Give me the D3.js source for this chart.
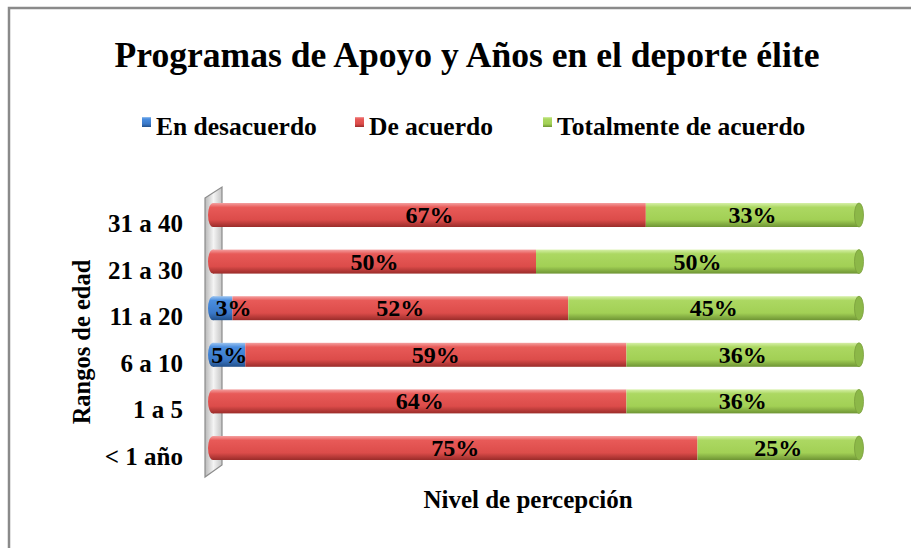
<!DOCTYPE html>
<html>
<head>
<meta charset="utf-8">
<script src="https://cdn.jsdelivr.net/npm/d3@7"></script>
<style>
  body { margin: 0; background: #fff; }
  text { font-family: "Liberation Serif", "Times New Roman", serif; font-weight: bold; }
</style>
</head>
<body>
<div id="chart"></div>
<script>
// chart data
var categories = ["31 a 40", "21 a 30", "11 a 20", "6 a 10", "1 a 5", "< 1 año"];
var seriesNames = ["En desacuerdo", "De acuerdo", "Totalmente de acuerdo"];
var desacuerdo = [0, 0, 3, 5, 0, 0];
var deAcuerdo = [67, 50, 52, 59, 64, 75];
var totalmente = [33, 50, 45, 36, 36, 25];

var W = 911, H = 548;

var svg = d3.select("#chart").append("svg")
    .attr("width", W).attr("height", H);

var defs = svg.append("defs");

// colour ramps for the cylinders: light top, mid, dark bottom
var ramps = [
  {id: "gBlue",  stops: ["#9cc4f0", "#4a8ee0", "#3a78c8", "#22508a"]},
  {id: "gRed",   stops: ["#f4a0a0", "#e85a58", "#dc4c4a", "#9a2c2a"]},
  {id: "gGreen", stops: ["#d6f0a8", "#acd862", "#a2d055", "#6e9434"]}
];
ramps.forEach(function(r) {
  var g = defs.append("linearGradient").attr("id", r.id)
      .attr("x1", 0).attr("y1", 0).attr("x2", 0).attr("y2", 1);
  g.append("stop").attr("offset", "0").attr("stop-color", r.stops[0]);
  g.append("stop").attr("offset", "0.18").attr("stop-color", r.stops[1]);
  g.append("stop").attr("offset", "0.7").attr("stop-color", r.stops[2]);
  g.append("stop").attr("offset", "1").attr("stop-color", r.stops[3]);
});
var wallGrad = defs.append("linearGradient").attr("id", "gWall")
    .attr("x1", 0).attr("y1", 0).attr("x2", 1).attr("y2", 0);
wallGrad.append("stop").attr("offset", "0").attr("stop-color", "#b8b8b8");
wallGrad.append("stop").attr("offset", "0.5").attr("stop-color", "#f4f4f4");
wallGrad.append("stop").attr("offset", "1").attr("stop-color", "#c4c4c4");

// outer frame
svg.append("rect")
    .attr("x", 9).attr("y", 8).attr("width", 960).attr("height", 600)
    .attr("fill", "none").attr("stroke", "#8a8a8a").attr("stroke-width", 2.5);

// title
svg.append("text")
    .attr("x", 467).attr("y", 67)
    .attr("text-anchor", "middle")
    .attr("font-size", 35.6)
    .text("Programas de Apoyo y Años en el deporte élite");

// legend
var legendX = [142, 355, 543];
var legendFill = ["#4a8ee0", "#e85a58", "#acd862"];
var legend = svg.append("g");
seriesNames.forEach(function(name, i) {
  legend.append("rect")
      .attr("x", legendX[i]).attr("y", 117).attr("width", 9).attr("height", 10)
      .attr("fill", "url(#" + ramps[i].id + ")");
  legend.append("text")
      .attr("x", legendX[i] + 14).attr("y", 135)
      .attr("font-size", 25.5)
      .text(name);
});

// scales
var x = d3.scaleLinear().domain([0, 100]).range([210, 856]);
var y = d3.scalePoint().domain(categories).range([215, 448]);
var barH = 24;

// side wall
svg.append("path")
    .attr("d", "M205,198 L222,187 L222,465 L205,477 Z")
    .attr("fill", "url(#gWall)")
    .attr("stroke", "#8c8c8c").attr("stroke-width", 1.2);

// stacked segments
var rows = categories.map(function(c, i) {
  return {cat: c, vals: [desacuerdo[i], deAcuerdo[i], totalmente[i]]};
});

var bars = svg.append("g");
rows.forEach(function(row) {
  var cy = y(row.cat);
  var acc = 0;
  var segs = [];
  row.vals.forEach(function(v, k) {
    if (v > 0) segs.push({k: k, x0: acc, x1: acc + v, v: v});
    acc += v;
  });
  // rounded left end
  var first = segs[0];
  bars.append("ellipse")
      .attr("cx", x(0) + 3).attr("cy", cy).attr("rx", 5).attr("ry", barH / 2)
      .attr("fill", "url(#" + ramps[first.k].id + ")");
  segs.forEach(function(s) {
    bars.append("rect")
        .attr("x", x(s.x0) + 3).attr("y", cy - barH / 2)
        .attr("width", x(s.x1) - x(s.x0)).attr("height", barH)
        .attr("fill", "url(#" + ramps[s.k].id + ")");
  });
  // right end cap
  var last = segs[segs.length - 1];
  bars.append("ellipse")
      .attr("cx", x(last.x1) + 3).attr("cy", cy).attr("rx", 4.5).attr("ry", barH / 2)
      .attr("fill", ["#3a78c8", "#c84846", "#8cb848"][last.k])
      .attr("stroke", ["#2a5a9a", "#9a2c2a", "#7a9e3c"][last.k]).attr("stroke-width", 0.8);
  // value labels
  segs.forEach(function(s) {
    var lx = (x(s.x0) + x(s.x1)) / 2 + 3;
    if (s.v < 4) lx = x(s.x1) + 4;
    bars.append("text")
        .attr("x", lx).attr("y", cy + 8)
        .attr("text-anchor", "middle")
        .attr("font-size", 24)
        .attr("fill", "#000")
        .text(s.v + "%");
  });
});

// category axis labels
svg.append("g").selectAll("text")
    .data(categories).enter().append("text")
    .attr("x", 183).attr("y", function(d) { return y(d) + 17; })
    .attr("text-anchor", "end")
    .attr("font-size", 25)
    .text(function(d) { return d; });

// axis titles
svg.append("text")
    .attr("transform", "translate(90,342) rotate(-90)")
    .attr("text-anchor", "middle")
    .attr("font-size", 24.5)
    .text("Rangos de edad");

svg.append("text")
    .attr("x", 528).attr("y", 508)
    .attr("text-anchor", "middle")
    .attr("font-size", 25)
    .text("Nivel de percepción");
</script>
</body>
</html>
